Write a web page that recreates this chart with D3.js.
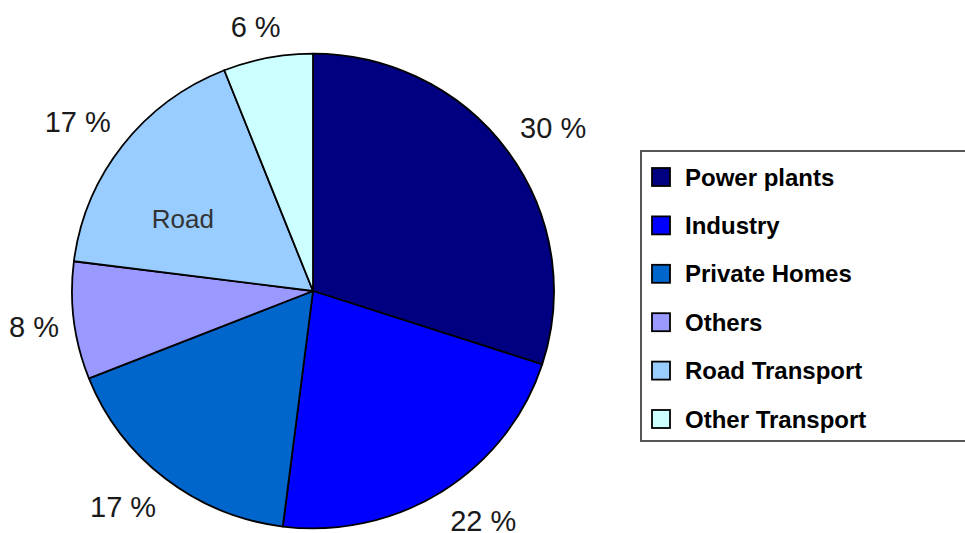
<!DOCTYPE html>
<html>
<head>
<meta charset="utf-8">
<script src="https://cdn.jsdelivr.net/npm/d3@7"></script>
<style>
  html, body { margin: 0; padding: 0; background: #fff; }
  svg { display: block; font-family: Arial, "Liberation Sans", sans-serif; }
</style>
</head>
<body>
<svg id="chart" width="965" height="533"></svg>
<script>
// Emission shares by source (percent)
const categories = ["Power plants", "Industry", "Private Homes", "Others", "Road Transport", "Other Transport"];
const values = [30, 22, 17, 8, 17, 6];
const colors = ["#000080", "#0000FF", "#0066CC", "#9999FF", "#99CCFF", "#CCFFFF"];
const valueLabels = values.map(v => v + " %");
const innerLabel = { category: "Road Transport", text: "Road" };

const svg = d3.select("#chart");

const cx = 313, cy = 291;
const radius = 241;

const pie = d3.pie().sort(null).value(d => d.value);
const data = categories.map((c, i) => ({ name: c, value: values[i], color: colors[i], label: valueLabels[i] }));
const arcs = pie(data);

const arc = d3.arc().innerRadius(0).outerRadius(radius);

const g = svg.append("g").attr("transform", `translate(${cx},${cy}) scale(1,0.985)`);

g.selectAll("path.slice")
  .data(arcs)
  .join("path")
  .attr("class", "slice")
  .attr("d", arc)
  .attr("fill", d => d.data.color)
  .attr("stroke", "#000")
  .attr("stroke-width", 1.8)
  .attr("stroke-linejoin", "round");

// Percentage labels outside the pie: the label box starts at a point just
// beyond the rim and is pushed outward toward the nearest corner
const polar = (angle, rx, ry) => [Math.sin(angle) * rx, -Math.cos(angle) * ry];
const labelFont = 29;
const labelGap = 256;
const push = t => Math.sign(t) * Math.min(1, Math.abs(t) / 0.5);

const labels = svg.append("g")
  .attr("transform", `translate(${cx},${cy})`)
  .selectAll("text")
  .data(arcs)
  .join("text")
  .attr("text-anchor", "middle")
  .attr("font-size", labelFont)
  .attr("fill", "#1a1a1a")
  .text(d => d.data.label);

labels.each(function (d) {
  const halfW = this.getComputedTextLength() / 2;
  const halfH = 13;
  const mid = (d.startAngle + d.endAngle) / 2;
  const s = Math.sin(mid), c = -Math.cos(mid);
  const x = s * labelGap + halfW * push(s);
  const y = c * labelGap + halfH * push(c);
  d3.select(this)
    .attr("x", x)
    .attr("y", y + labelFont * 0.36);
});

// Name inside the road transport slice
const roadArc = arcs.find(a => a.data.name === innerLabel.category);
const roadAngle = (roadArc.startAngle + roadArc.endAngle) / 2 - 0.154;
const roadPos = polar(roadAngle, radius * 0.617, radius * 0.617);
svg.append("text")
  .attr("x", cx + roadPos[0])
  .attr("y", cy + roadPos[1] + 26 * 0.36)
  .attr("text-anchor", "middle")
  .attr("font-size", 26)
  .attr("fill", "#333")
  .text(innerLabel.text);

// Legend
const legend = svg.append("g");
legend.append("rect")
  .attr("x", 641)
  .attr("y", 151)
  .attr("width", 340)
  .attr("height", 290)
  .attr("fill", "#fff")
  .attr("stroke", "#555")
  .attr("stroke-width", 2);

const rowY = d3.scalePoint().domain(categories).range([177, 419]);
const items = legend.selectAll("g.item")
  .data(data)
  .join("g")
  .attr("class", "item")
  .attr("transform", d => `translate(0,${rowY(d.name)})`);

items.append("rect")
  .attr("x", 652)
  .attr("y", -9)
  .attr("width", 18)
  .attr("height", 18)
  .attr("fill", d => d.color)
  .attr("stroke", "#000")
  .attr("stroke-width", 1.8);

items.append("text")
  .attr("x", 685)
  .attr("y", 24 * 0.36)
  .attr("font-size", 24)
  .attr("font-weight", "bold")
  .attr("fill", "#000")
  .text(d => d.name);
</script>
</body>
</html>
